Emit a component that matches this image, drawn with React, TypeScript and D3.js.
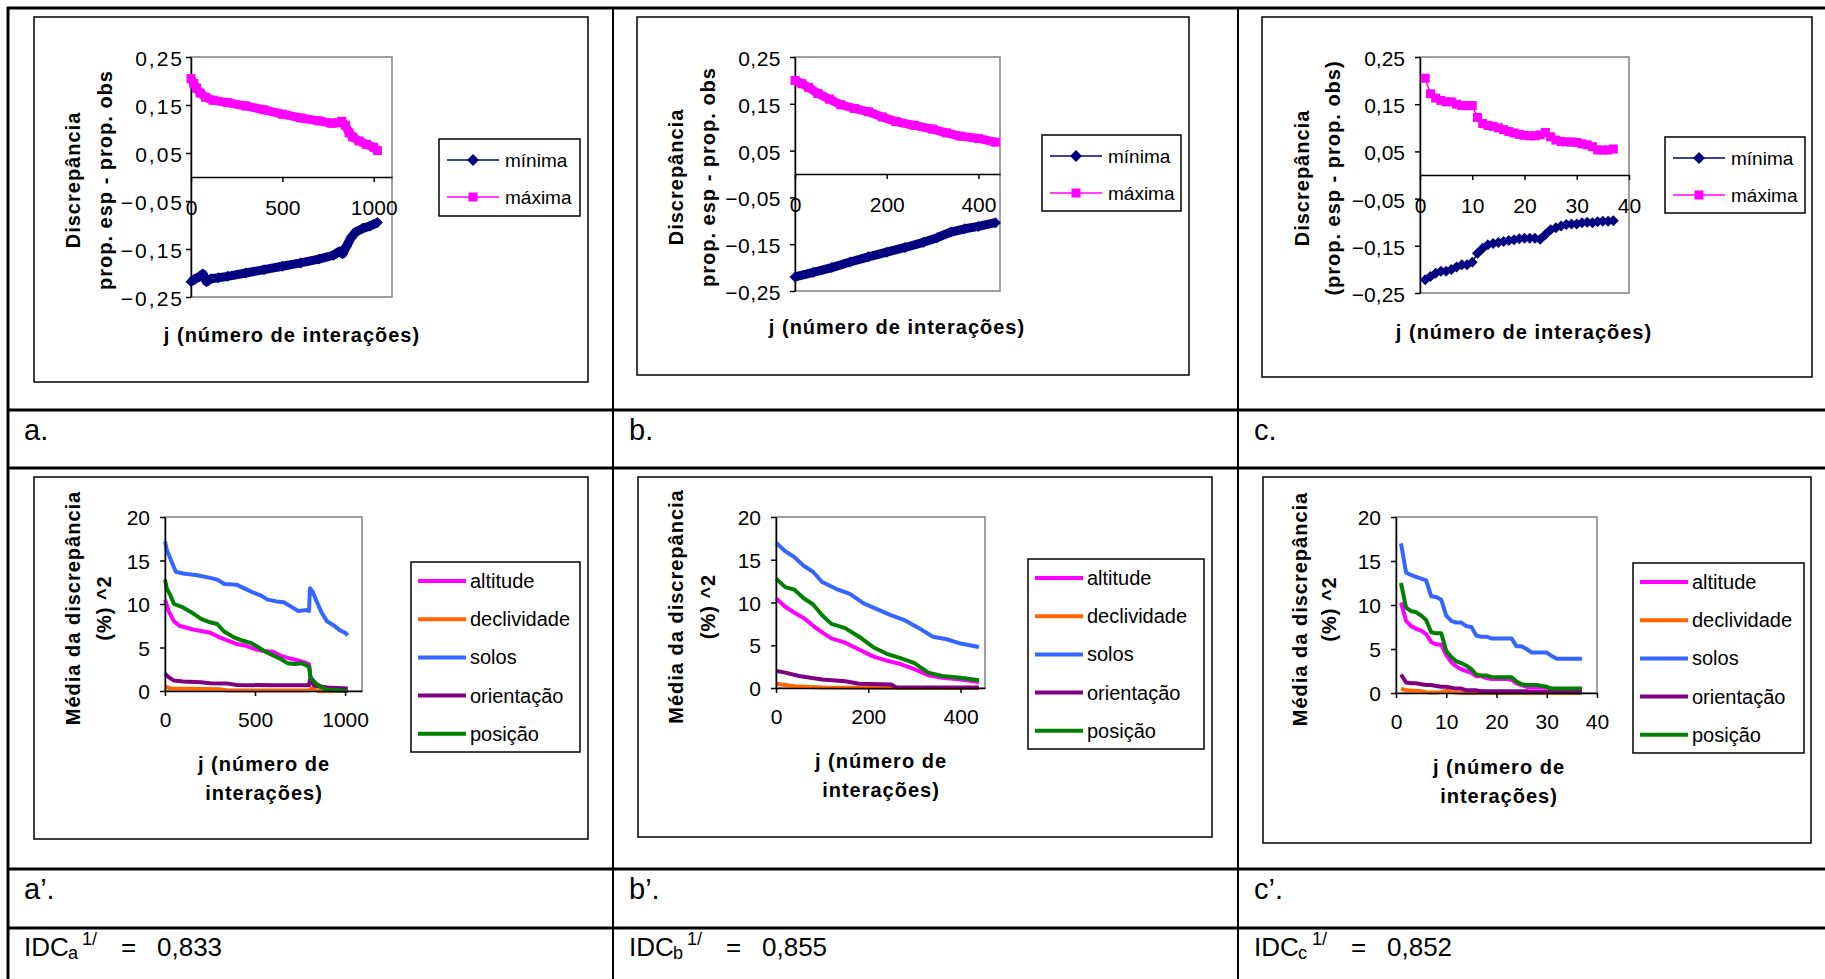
import React, { useEffect, useRef } from "react";
import * as d3 from "d3";

const W = 1825;
const H = 979;
const FONT = "'Liberation Sans', Arial, sans-serif";

// ── Top row: discrepância mínima / máxima ([j, value]) ──────────────────
const maximaA = [
  [0, 0.205], [15, 0.195], [30, 0.185], [50, 0.175], [80, 0.166], [120, 0.16],
  [200, 0.155], [300, 0.148], [400, 0.14], [500, 0.131], [600, 0.123], [700, 0.117],
  [770, 0.112], [800, 0.113], [825, 0.116], [845, 0.108], [865, 0.092], [885, 0.083],
  [920, 0.075], [960, 0.068], [1000, 0.062], [1020, 0.055],
];
const minimaA = [
  [0, -0.218], [20, -0.213], [45, -0.208], [65, -0.202], [85, -0.218], [110, -0.212],
  [150, -0.21], [200, -0.207], [300, -0.2], [400, -0.193], [500, -0.186], [600, -0.179],
  [700, -0.171], [780, -0.163], [800, -0.158], [815, -0.155], [830, -0.16], [850, -0.145],
  [875, -0.127], [900, -0.115], [940, -0.107], [980, -0.102], [1020, -0.095],
];
const maximaB = [
  [0, 0.2], [15, 0.193], [30, 0.185], [50, 0.172], [75, 0.16], [100, 0.148], [130, 0.14],
  [160, 0.133], [190, 0.122], [220, 0.112], [260, 0.104], [300, 0.096], [330, 0.088],
  [360, 0.081], [400, 0.076], [437, 0.068],
];
const minimaB = [
  [0, -0.22], [40, -0.21], [80, -0.2], [120, -0.188], [160, -0.177], [200, -0.167],
  [240, -0.157], [280, -0.146], [310, -0.136], [340, -0.124], [370, -0.117], [400, -0.112],
  [437, -0.104],
];
// chart c: one value per iteration j = 1..37
const maximaC = [
  0.205, 0.172, 0.163, 0.158, 0.155, 0.155, 0.15, 0.147, 0.147, 0.147,
  0.122, 0.109, 0.105, 0.103, 0.1, 0.096, 0.092, 0.089, 0.086, 0.084,
  0.083, 0.083, 0.085, 0.09, 0.081, 0.074, 0.071, 0.07, 0.07, 0.069,
  0.066, 0.064, 0.06, 0.053, 0.053, 0.053, 0.055,
];
const minimaC = [
  -0.222, -0.215, -0.208, -0.204, -0.204, -0.2, -0.195, -0.19, -0.19, -0.185,
  -0.166, -0.155, -0.148, -0.145, -0.143, -0.141, -0.139, -0.137, -0.135, -0.134,
  -0.134, -0.134, -0.136, -0.126, -0.116, -0.112, -0.108, -0.105, -0.104, -0.104,
  -0.101, -0.1, -0.101, -0.099, -0.098, -0.098, -0.097,
];

// ── Bottom row: média da discrepância (%)^2 ([j, value]) ────────────────
const altitudeA = [
  [0, 10.5], [20, 9.2], [50, 8.0], [80, 7.5], [150, 7.1], [200, 6.9], [250, 6.7], [300, 6.2],
  [350, 5.8], [400, 5.4], [450, 5.2], [500, 4.8], [550, 4.6], [600, 4.5], [650, 4.0],
  [700, 3.7], [760, 3.4], [800, 3.1], [808, 1.6], [840, 0.8], [880, 0.4], [950, 0.25], [1015, 0.2],
];
const declividadeA = [
  [0, 0.5], [30, 0.3], [300, 0.2], [350, 0.05], [800, 0.05], [815, 0.3], [850, 0.0], [1015, 0.0],
];
const solosA = [
  [0, 17.2], [10, 16.2], [30, 15.2], [60, 13.7], [100, 13.5], [180, 13.3], [250, 13.0],
  [290, 12.8], [330, 12.3], [400, 12.2], [440, 11.8], [480, 11.4], [530, 11.0], [570, 10.5],
  [620, 10.3], [660, 10.2], [700, 9.7], [740, 9.2], [790, 9.3], [800, 9.2], [805, 11.8],
  [820, 11.4], [840, 10.4], [870, 9.0], [900, 8.0], [940, 7.5], [970, 7.0], [1000, 6.7], [1015, 6.4],
];
const orientacaoA = [
  [0, 2.0], [20, 1.6], [50, 1.2], [100, 1.1], [200, 1.0], [250, 0.9], [350, 0.85], [400, 0.7],
  [600, 0.65], [800, 0.65], [805, 1.3], [830, 0.6], [900, 0.4], [1015, 0.3],
];
const posicaoA = [
  [0, 12.8], [10, 11.8], [30, 11.0], [50, 10.0], [100, 9.6], [150, 9.0], [200, 8.3], [250, 7.9],
  [290, 7.7], [330, 6.8], [380, 6.2], [430, 5.8], [480, 5.5], [520, 5.0], [560, 4.5], [600, 4.1],
  [640, 3.7], [680, 3.2], [720, 3.1], [760, 3.2], [800, 2.8], [808, 1.5], [830, 1.0], [860, 0.5],
  [900, 0.15], [1015, 0.0],
];

const altitudeB = [
  [0, 10.5], [20, 9.5], [40, 8.8], [60, 8.2], [80, 7.3], [100, 6.5], [120, 5.8], [150, 5.3],
  [180, 4.5], [210, 3.7], [240, 3.2], [270, 2.8], [300, 2.2], [330, 1.5], [360, 1.2], [400, 1.0], [440, 0.7],
];
const declividadeB = [[0, 0.5], [40, 0.2], [100, 0.05], [250, 0.0], [440, 0.0]];
const solosB = [
  [0, 17.0], [20, 16.0], [40, 15.3], [60, 14.3], [80, 13.6], [100, 12.4], [130, 11.6], [160, 11.0],
  [190, 9.9], [220, 9.2], [250, 8.5], [280, 7.9], [310, 7.0], [340, 6.0], [370, 5.7], [400, 5.2], [440, 4.8],
];
const orientacaoB = [
  [0, 2.0], [20, 1.8], [50, 1.4], [100, 1.0], [150, 0.8], [180, 0.5], [250, 0.4], [260, 0.1], [440, 0.05],
];
const posicaoB = [
  [0, 12.8], [20, 11.8], [40, 11.5], [60, 10.5], [80, 9.8], [100, 8.5], [120, 7.5], [150, 7.0],
  [180, 6.0], [210, 4.8], [240, 4.0], [270, 3.5], [300, 2.9], [330, 1.8], [360, 1.4], [400, 1.2], [440, 0.9],
];

// chart c': one value per iteration j = 1..37
const altitudeC = [
  10.3, 8.2, 7.6, 7.3, 7.1, 6.7, 5.8, 5.5, 5.5, 4.3, 3.5, 3.0, 2.7, 2.5, 2.3, 1.9, 1.9, 1.7, 1.6,
  1.6, 1.6, 1.6, 1.5, 1.1, 0.9, 0.7, 0.6, 0.6, 0.6, 0.6, 0.5, 0.4, 0.4, 0.4, 0.4, 0.4, 0.4,
];
const declividadeC = [
  0.5, 0.3, 0.25, 0.25, 0.2, 0.1, 0.05, 0.05, 0.1, 0.25, 0.1, 0.05, 0, 0, 0, 0, 0, 0, 0,
  0, 0, 0, 0, 0, 0, 0, 0, 0, 0, 0, 0, 0, 0, 0, 0, 0, 0,
];
const solosC = [
  17.0, 13.7, 13.4, 13.2, 13.0, 12.8, 11.0, 10.9, 10.6, 8.8, 8.2, 8.0, 8.0, 7.6, 7.5, 6.5, 6.4, 6.4,
  6.2, 6.2, 6.2, 6.2, 6.2, 5.3, 5.3, 5.0, 4.6, 4.6, 4.6, 4.6, 4.2, 3.9, 3.9, 3.9, 3.9, 3.9, 3.9,
];
const orientacaoC = [
  2.1, 1.2, 1.1, 1.1, 1.0, 0.9, 0.9, 0.8, 0.7, 0.7, 0.6, 0.5, 0.5, 0.3, 0.3, 0.3, 0.2, 0.2, 0.2,
  0.2, 0.2, 0.2, 0.2, 0.2, 0.2, 0.2, 0.1, 0.1, 0.1, 0.1, 0.1, 0.1, 0.1, 0.1, 0.1, 0.1, 0.1,
];
const posicaoC = [
  12.5, 9.7, 9.3, 9.2, 8.8, 8.3, 6.9, 6.8, 6.8, 4.8, 4.1, 3.6, 3.4, 3.1, 2.7, 2.1, 2.0, 2.0, 1.8,
  1.8, 1.8, 1.8, 1.8, 1.3, 1.0, 0.9, 0.9, 0.9, 0.8, 0.7, 0.5, 0.5, 0.5, 0.5, 0.5, 0.5, 0.5,
];

// ── Axis ticks and labels ──────────────────────────────────────────────
const topYTicks = [-0.25, -0.15, -0.05, 0.05, 0.15, 0.25];
const bottomYTicks = [0, 5, 10, 15, 20];
const ticksLong = [0, 500, 1000];
const ticksMid = [0, 200, 400];
const ticksShort = [0, 10, 20, 30, 40];
const topSeriesNames = ["mínima", "máxima"];
const bottomSeriesNames = ["altitude", "declividade", "solos", "orientação", "posição"];
const panelLabels = ["a.", "b.", "c.", "a’.", "b’.", "c’."];
const idcSubs = ["a", "b", "c"];
const idcValues = ["0,833", "0,855", "0,852"];

const TOP_COLORS = ["#000080", "#ff00ff"];
const BOTTOM_COLORS = ["#ff00ff", "#ff6600", "#3366ff", "#800080", "#008000"];

const byIter = (vals) => vals.map((v, i) => [i + 1, v]);
const comma2 = (v) => d3.format(".2f")(v).replace(".", ",");
const intFmt = d3.format("d");

const TOP_CHARTS = [
  {
    box: [34, 17, 588, 382], plot: [191, 392, 57, 297], xMax: 1100, xTicks: ticksLong,
    series: [minimaA, maximaA], dense: true, yPad: 2, ySpacing: 2,
    legend: [439, 139, 580, 216], yTitle: ["Discrepância", "prop. esp - prop. obs"],
    yTitleX: [73, 105], xTitle: [292, 342],
  },
  {
    box: [637, 17, 1189, 375], plot: [795, 1000, 57, 291], xMax: 447, xTicks: ticksMid,
    series: [minimaB, maximaB], dense: true, yPad: 9, ySpacing: 0.5,
    legend: [1042, 135, 1181, 211], yTitle: ["Discrepância", "prop. esp - prop. obs"],
    yTitleX: [676, 708], xTitle: [897, 334],
  },
  {
    box: [1262, 17, 1812, 377], plot: [1420, 1629, 57, 293], xMax: 40, xTicks: ticksShort,
    series: [byIter(minimaC), byIter(maximaC)], dense: false, yPad: 10, ySpacing: 0,
    legend: [1665, 137, 1805, 213], yTitle: ["Discrepância", "(prop. esp - prop. obs)"],
    yTitleX: [1302, 1333], xTitle: [1524, 339],
  },
];

const BOTTOM_CHARTS = [
  {
    box: [34, 477, 588, 839], plot: [165, 362, 517, 691], xMax: 1094, xTicks: ticksLong,
    series: [altitudeA, declividadeA, solosA, orientacaoA, posicaoA],
    legend: [411, 562, 580, 752], yTitleX: [73, 104], xTitle: [264, 771],
  },
  {
    box: [638, 477, 1212, 837], plot: [776, 985, 517, 688], xMax: 453, xTicks: ticksMid,
    series: [altitudeB, declividadeB, solosB, orientacaoB, posicaoB],
    legend: [1028, 559, 1204, 749], yTitleX: [676, 708], xTitle: [881, 768],
  },
  {
    box: [1263, 477, 1811, 843], plot: [1396, 1597, 517, 693], xMax: 40, xTicks: ticksShort,
    series: [byIter(altitudeC), byIter(declividadeC), byIter(solosC), byIter(orientacaoC), byIter(posicaoC)],
    legend: [1633, 563, 1804, 753], yTitleX: [1300, 1329], xTitle: [1499, 774],
  },
];

const diamond = (s) => `M0,${-s}L${s},0L0,${s}L${-s},0Z`;

function styleAxis(ax, spacing = 0) {
  ax.select(".domain").attr("stroke", "#000").attr("stroke-width", 1.5);
  ax.selectAll(".tick line").attr("stroke", "#000").attr("stroke-width", 1.5);
  ax.selectAll(".tick text")
    .attr("fill", "#000")
    .attr("font-size", "21px")
    .attr("letter-spacing", `${spacing}px`)
    .attr("font-family", FONT);
}

function frame(g, c) {
  g.append("rect")
    .attr("x", c.box[0]).attr("y", c.box[1])
    .attr("width", c.box[2] - c.box[0]).attr("height", c.box[3] - c.box[1])
    .attr("fill", "#fff").attr("stroke", "#000").attr("stroke-width", 1.5);
  g.append("rect")
    .attr("x", c.plot[0]).attr("y", c.plot[2])
    .attr("width", c.plot[1] - c.plot[0]).attr("height", c.plot[3] - c.plot[2])
    .attr("fill", "none").attr("stroke", "#808080").attr("stroke-width", 1.5);
  g.append("rect")
    .attr("x", c.legend[0]).attr("y", c.legend[1])
    .attr("width", c.legend[2] - c.legend[0]).attr("height", c.legend[3] - c.legend[1])
    .attr("fill", "#fff").attr("stroke", "#000").attr("stroke-width", 1.5);
}

function boldTitle(g, x, y, text, rotate) {
  return g.append("text")
    .attr("transform", rotate ? `translate(${x},${y}) rotate(-90)` : `translate(${x},${y})`)
    .attr("text-anchor", "middle")
    .attr("dy", rotate ? "0.35em" : 0)
    .attr("font-size", "20px")
    .attr("font-weight", "bold")
    .attr("letter-spacing", "1px")
    .attr("font-family", FONT)
    .attr("fill", "#000")
    .text(text);
}

function drawTop(root, c) {
  const g = root.append("g");
  frame(g, c);

  const x = d3.scaleLinear().domain([0, c.xMax]).range([c.plot[0], c.plot[1]]);
  const y = d3.scaleLinear().domain([-0.25, 0.25]).range([c.plot[3], c.plot[2]]);

  g.append("g")
    .attr("transform", `translate(${c.plot[0]},0)`)
    .call(d3.axisLeft(y).tickValues(topYTicks).tickSize(5).tickSizeOuter(0).tickPadding(c.yPad).tickFormat(comma2))
    .call((ax) => styleAxis(ax, c.ySpacing))
    .call((ax) => ax.selectAll(".tick text").attr("dy", "0.4em"));
  g.append("g")
    .attr("transform", `translate(0,${y(0)})`)
    .call(d3.axisBottom(x).tickValues(c.xTicks).tickSize(5).tickSizeOuter(0).tickPadding(18).tickFormat(intFmt))
    .call((ax) => styleAxis(ax));

  const line = d3.line().x((d) => x(d[0])).y((d) => y(d[1]));
  c.series.forEach((data, si) => {
    const color = TOP_COLORS[si];
    g.append("path")
      .attr("d", line(data))
      .attr("fill", "none")
      .attr("stroke", color)
      .attr("stroke-width", c.dense ? 9 : 1.5)
      .attr("stroke-linejoin", "round");
    data.forEach((d) => {
      if (si === 0) {
        g.append("path").attr("d", diamond(5.5))
          .attr("transform", `translate(${x(d[0])},${y(d[1])})`).attr("fill", color);
      } else {
        g.append("rect").attr("x", x(d[0]) - 4.5).attr("y", y(d[1]) - 4.5)
          .attr("width", 9).attr("height", 9).attr("fill", color);
      }
    });
  });

  // legend
  const [ll, lt] = c.legend;
  topSeriesNames.forEach((name, i) => {
    const cy = lt + 21 + i * 37;
    g.append("line").attr("x1", ll + 8).attr("x2", ll + 60).attr("y1", cy).attr("y2", cy)
      .attr("stroke", TOP_COLORS[i]).attr("stroke-width", 1.5);
    if (i === 0) {
      g.append("path").attr("d", diamond(6)).attr("transform", `translate(${ll + 34},${cy})`).attr("fill", TOP_COLORS[i]);
    } else {
      g.append("rect").attr("x", ll + 29.5).attr("y", cy - 4.5).attr("width", 9).attr("height", 9).attr("fill", TOP_COLORS[i]);
    }
    g.append("text").attr("x", ll + 66).attr("y", cy).attr("dy", "0.35em")
      .attr("font-size", "19px").attr("font-family", FONT).attr("fill", "#000").text(name);
  });

  const cy = (c.plot[2] + c.plot[3]) / 2 + 3;
  boldTitle(g, c.yTitleX[0], cy, c.yTitle[0], true);
  boldTitle(g, c.yTitleX[1], cy, c.yTitle[1], true);
  boldTitle(g, c.xTitle[0], c.xTitle[1], "j (número de interações)", false);
}

function drawBottom(root, c) {
  const g = root.append("g");
  frame(g, c);

  const x = d3.scaleLinear().domain([0, c.xMax]).range([c.plot[0], c.plot[1]]);
  const y = d3.scaleLinear().domain([0, 20]).range([c.plot[3], c.plot[2]]);

  const line = d3.line().x((d) => x(d[0])).y((d) => y(d[1]));
  c.series.forEach((data, si) => {
    g.append("path")
      .attr("d", line(data))
      .attr("fill", "none")
      .attr("stroke", BOTTOM_COLORS[si])
      .attr("stroke-width", 4)
      .attr("stroke-linejoin", "round");
  });

  g.append("g")
    .attr("transform", `translate(${c.plot[0]},0)`)
    .call(d3.axisLeft(y).tickValues(bottomYTicks).tickSize(5).tickSizeOuter(0).tickPadding(10))
    .call((ax) => styleAxis(ax))
    .call((ax) => ax.selectAll(".tick text").attr("dy", "0.36em"));
  g.append("g")
    .attr("transform", `translate(0,${c.plot[3]})`)
    .call(d3.axisBottom(x).tickValues(c.xTicks).tickSize(5).tickSizeOuter(0).tickPadding(16).tickFormat(intFmt))
    .call((ax) => styleAxis(ax));

  const [ll, lt] = c.legend;
  bottomSeriesNames.forEach((name, i) => {
    const cy = lt + 19 + i * 38.2;
    g.append("line").attr("x1", ll + 7).attr("x2", ll + 55).attr("y1", cy).attr("y2", cy)
      .attr("stroke", BOTTOM_COLORS[i]).attr("stroke-width", 4);
    g.append("text").attr("x", ll + 59).attr("y", cy).attr("dy", "0.35em")
      .attr("font-size", "20px").attr("font-family", FONT).attr("fill", "#000").text(name);
  });

  const cy = (c.plot[2] + c.plot[3]) / 2 + 4;
  boldTitle(g, c.yTitleX[0], cy, "Média da discrepância", true);
  boldTitle(g, c.yTitleX[1], cy, "(%) ^2", true);
  boldTitle(g, c.xTitle[0], c.xTitle[1], "j (número de", false);
  boldTitle(g, c.xTitle[0], c.xTitle[1] + 29, "interações)", false);
}

export default function App() {
  const svgRef = useRef(null);

  useEffect(() => {
    const svg = d3.select(svgRef.current);
    svg.selectAll("*").remove();
    svg.append("rect").attr("width", W).attr("height", H).attr("fill", "#fff");

    TOP_CHARTS.forEach((c) => drawTop(svg, c));
    BOTTOM_CHARTS.forEach((c) => drawBottom(svg, c));

    // ── Table grid ──────────────────────────────────────────────────
    const colX = [8, 613, 1238];
    const rowY = [8, 410, 468, 869, 928];
    rowY.forEach((ry) => {
      svg.append("line").attr("x1", 7).attr("x2", W).attr("y1", ry).attr("y2", ry)
        .attr("stroke", "#000").attr("stroke-width", 3);
    });
    colX.forEach((cx, i) => {
      svg.append("line").attr("x1", cx).attr("x2", cx).attr("y1", 7).attr("y2", H)
        .attr("stroke", "#000").attr("stroke-width", i === 0 ? 3 : 2);
    });

    // ── Panel labels and IDC values ─────────────────────────────────
    const textX = [24, 629, 1254];
    panelLabels.forEach((lab, i) => {
      svg.append("text")
        .attr("x", textX[i % 3]).attr("y", i < 3 ? 440 : 899)
        .attr("font-size", "29px").attr("font-family", FONT).attr("fill", "#000")
        .text(lab);
    });
    idcSubs.forEach((sub, i) => {
      const x0 = textX[i];
      const t = svg.append("text")
        .attr("x", x0).attr("y", 956)
        .attr("font-size", "26px").attr("font-family", FONT).attr("fill", "#000");
      t.append("tspan").text("IDC");
      t.append("tspan").attr("x", x0 + 44).attr("dy", 3).attr("font-size", "18px").text(sub);
      t.append("tspan").attr("x", x0 + 58).attr("dy", -14).attr("font-size", "18px").text("1/");
      t.append("tspan").attr("x", x0 + 97).attr("dy", 11).text("=");
      t.append("tspan").attr("x", x0 + 133).text(idcValues[i]);
    });
  }, []);

  return (
    <svg
      ref={svgRef}
      width={W}
      height={H}
      style={{ position: "absolute", left: 0, top: 0 }}
    />
  );
}
